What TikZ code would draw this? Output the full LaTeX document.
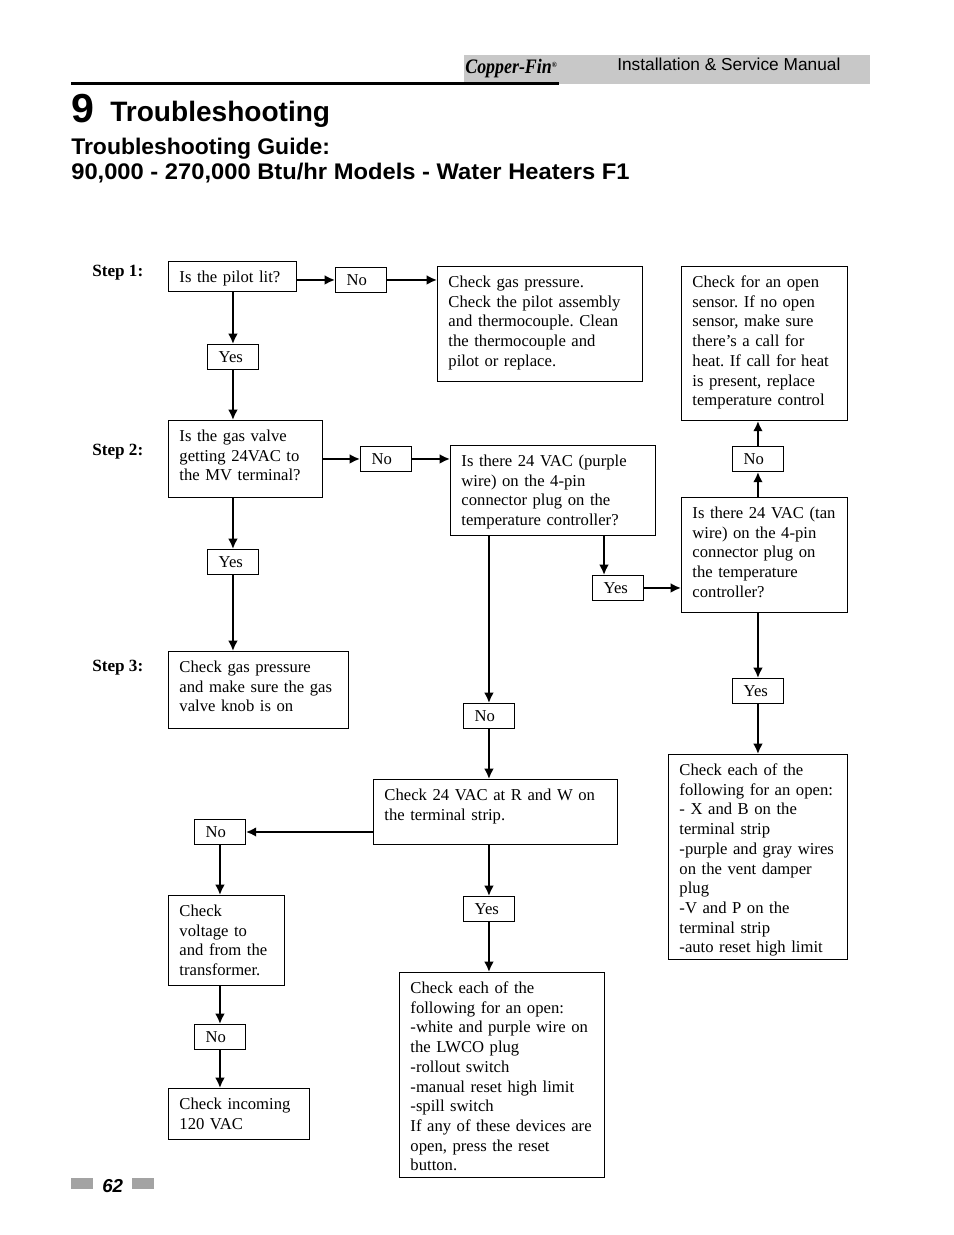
\documentclass[tikz,border=0pt]{standalone}
\usepackage{fontspec}
\setmainfont{Liberation Serif}
\newfontfamily\headfont[FakeStretch=1.015]{Liberation Sans}
\newfontfamily\wideheadfont[FakeStretch=1.05]{Liberation Sans}
\newfontfamily\plainsans{Liberation Sans}
\newfontfamily\brandfont[FakeStretch=0.87]{Liberation Serif}
\usetikzlibrary{arrows.meta,positioning}
\newcommand{\pxlen}{0.6415pt}
\definecolor{headgray}{HTML}{C8C8C8}
\definecolor{footgray}{HTML}{A3A3A3}
\tikzset{
    flowbox/.code 2 args={%
        \pgfmathsetlengthmacro\boxwd{#1*\pxlen}%
        \pgfmathsetlengthmacro\boxdp{(#2-21)*\pxlen}%
        \tikzset{draw, anchor=north west, line width=0.6pt, inner sep=0pt,
            align=left, font=\fontsize{10.68}{12.65}\selectfont,
            execute at begin node={\frenchspacing\leftskip=7.06pt},
            text width=\boxwd, text height=21*\pxlen, text depth=\boxdp}},
    tagbox/.style={flowbox={51}{25}, text height=18*\pxlen, text depth=7*\pxlen,
            execute at begin node={\leftskip=7.2pt}},
    steplabel/.style={anchor=base west, inner sep=0pt, font=\fontsize{11}{13}\selectfont\bfseries},
    headtext/.style={anchor=base west, inner sep=0pt, font=\headfont\bfseries\fontsize{#1}{#1}\selectfont},
    flowline/.style={-{Latex[length=6.6pt,width=6.2pt]}, line width=1.25pt},
}
\begin{document}
\begin{tikzpicture}[x=0.6415pt,y=-0.6415pt]
        \useasboundingbox (0,0) rectangle (954,1235);
        % page head
        \fill[headgray] (464,55) rectangle (870,84);
        \fill[black] (71,82) rectangle (559,84.5);
        \node[anchor=base west, inner sep=0pt, font=\brandfont\fontsize{13.2}{14}\selectfont\bfseries\itshape] (brand) at (465,73) {Copper-Fin\raisebox{3.5pt}{\fontsize{5}{5}\selectfont ®}};
        \node[anchor=base west, inner sep=0pt, font=\plainsans\fontsize{11.1}{13}\selectfont] (manual) at (617,70) {Installation \& Service Manual};
        \node[headtext=26] (chapter) at (71,122) {9};
        \node[headtext=18, font=\plainsans\bfseries\fontsize{18}{18}\selectfont] (title) at (110,121) {Troubleshooting};
        \node[headtext=14.5] (guide) at (71,154) {Troubleshooting Guide:};
        \node[headtext=14.5, font=\wideheadfont\bfseries\fontsize{14.5}{14.5}\selectfont] (models) at (71,179) {90,000 - 270,000 Btu/hr Models - Water Heaters F1};
        % step labels
        \node[steplabel] (step1) at (92,276) {Step 1:};
        \node[steplabel] (step2) at (92,455) {Step 2:};
        \node[steplabel] (step3) at (92,671) {Step 3:};
        % boxes
        \node[flowbox={128}{30}] (pilot) at (168,261) {Is the pilot lit?};
        \node[tagbox] (pilotno) at (335,267) {No};
        \node[flowbox={205}{115}] (gaspress) at (437,266) {Check gas pressure.\\Check the pilot assembly\\and thermocouple. Clean\\the thermocouple and\\pilot or replace.};
        \node[flowbox={166}{154}] (sensor) at (681,266) {Check for an open\\sensor. If no open\\sensor, make sure\\there’s a call for\\heat. If call for heat\\is present, replace\\temperature control};
        \node[tagbox] (pilotyes) at (207,344) {Yes};
        \node[flowbox={154}{77}] (valve) at (168,420) {Is the gas valve\\getting 24VAC to\\the MV terminal?};
        \node[tagbox] (valveno) at (360,446) {No};
        \node[flowbox={205}{90}] (purple) at (450,445) {Is there 24 VAC (purple\\wire) on the 4-pin\\connector plug on the\\temperature controller?};
        \node[tagbox] (tanno) at (732,446) {No};
        \node[flowbox={166}{115}] (tan) at (681,497) {Is there 24 VAC (tan\\wire) on the 4-pin\\connector plug on\\the temperature\\controller?};
        \node[tagbox] (valveyes) at (207,549) {Yes};
        \node[tagbox] (purpleyes) at (592,575) {Yes};
        \node[flowbox={180}{77}] (knob) at (168,651) {Check gas pressure\\and make sure the gas\\valve knob is on};
        \node[tagbox] (tanyes) at (732,678) {Yes};
        \node[tagbox] (purpleno) at (463,703) {No};
        \node[flowbox={179}{205}] (openright) at (668,754) {Check each of the\\following for an open:\\- X and B on the\\terminal strip\\-purple and gray wires\\on the vent damper\\plug\\-V and P on the\\terminal strip\\-auto reset high limit};
        \node[flowbox={244}{65}] (strip) at (373,779) {Check 24 VAC at R and W on\\the terminal strip.};
        \node[tagbox] (stripno) at (194,819) {No};
        \node[flowbox={116}{90}] (voltage) at (168,895) {Check\\voltage to\\and from the\\transformer.};
        \node[tagbox] (stripyes) at (463,896) {Yes};
        \node[flowbox={205}{205}] (openlow) at (399,972) {Check each of the\\following for an open:\\-white and purple wire on\\the LWCO plug\\-rollout switch\\-manual reset high limit\\-spill switch\\If any of these devices are\\open, press the reset\\button.};
        \node[tagbox] (voltno) at (194,1024) {No};
        \node[flowbox={141}{51}] (incoming) at (168,1088) {Check incoming\\120 VAC};
        % free ends of the offset line
        \coordinate (purpleout) at (604,535);
        \coordinate (purpleyesin) at (604,575);
        % connectors
        \draw[flowline] (pilot.south -| pilotyes) -- (pilotyes.north);
        \draw[flowline] (pilotyes.south) -- (valve.north -| pilotyes);
        \draw[flowline] (pilot.east |- pilotno.west) -- (pilotno.west);
        \draw[flowline] (pilotno.east) -- (gaspress.west |- pilotno.east);
        \draw[flowline] (valve.east |- valveno.west) -- (valveno.west);
        \draw[flowline] (valveno.east) -- (purple.west |- valveno.east);
        \draw[flowline] (valve.south -| valveyes) -- (valveyes.north);
        \draw[flowline] (valveyes.south) -- (knob.north -| valveyes);
        \draw[flowline] (purple.south -| purpleno) -- (purpleno.north);
        \draw[flowline] (purpleno.south) -- (strip.north -| purpleno);
        \draw[flowline] (purpleout) -- (purpleyesin);
        \draw[flowline] (purpleyes.east) -- (tan.west |- purpleyes.east);
        \draw[flowline] (tan.north -| tanno) -- (tanno.south);
        \draw[flowline] (tanno.north) -- (sensor.south -| tanno);
        \draw[flowline] (tan.south -| tanyes) -- (tanyes.north);
        \draw[flowline] (tanyes.south) -- (openright.north -| tanyes);
        \draw[flowline] (strip.west |- stripno.east) -- (stripno.east);
        \draw[flowline] (stripno.south) -- (voltage.north -| stripno);
        \draw[flowline] (voltage.south -| voltno) -- (voltno.north);
        \draw[flowline] (voltno.south) -- (incoming.north -| voltno);
        \draw[flowline] (strip.south -| stripyes) -- (stripyes.north);
        \draw[flowline] (stripyes.south) -- (openlow.north -| stripyes);
        % page foot
        \fill[footgray] (71,1178) rectangle (93,1189);
        \fill[footgray] (132,1178) rectangle (154,1189);
        \node[anchor=base west, inner sep=0pt, font=\plainsans\bfseries\itshape\fontsize{12}{14}\selectfont] (pagenum) at (102,1192) {62};
\end{tikzpicture}
\end{document}
